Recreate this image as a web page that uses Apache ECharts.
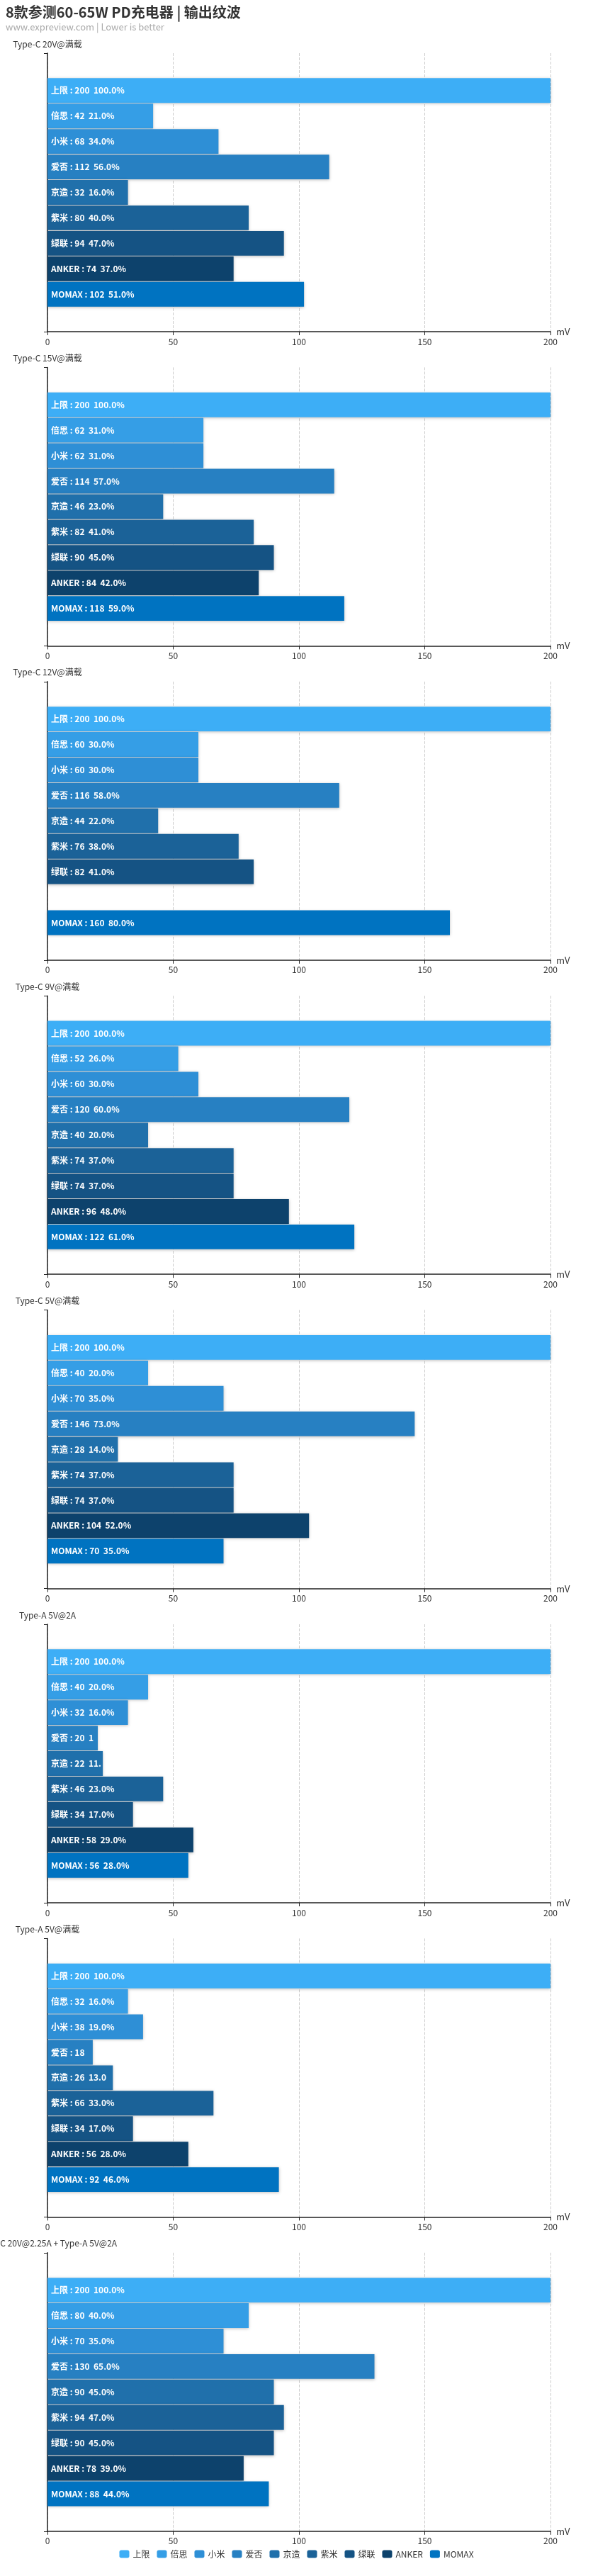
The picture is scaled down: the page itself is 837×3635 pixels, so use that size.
<!DOCTYPE html>
<html>
<head>
<meta charset="utf-8">
<script src="https://cdn.jsdelivr.net/npm/echarts@6/dist/echarts.min.js"></script>
<style>
html,body{margin:0;padding:0;background:#fff;}
#chart{width:837px;height:3635px;}
</style>
</head>
<body>
<div id="chart"></div>
<script>
var brands = ['上限', '倍思', '小米', '爱否', '京造', '紫米', '绿联', 'ANKER', 'MOMAX'];
var brandColors = ['#3daef6', '#359ee6', '#2e8fd6', '#2780c2', '#2070ab', '#1b6298', '#155384', '#0d426c', '#0073c1'];
var testNames = [
  'Type-C 20V@满载',
  'Type-C 15V@满载',
  'Type-C 12V@满载',
  'Type-C 9V@满载',
  'Type-C 5V@满载',
  'Type-A 5V@2A',
  'Type-A 5V@满载',
  'Type-C 20V@2.25A + Type-A 5V@2A'
];
var tC20 = [200, 42, 68, 112, 32, 80, 94, 74, 102];
var tC15 = [200, 62, 62, 114, 46, 82, 90, 84, 118];
var tC12 = [200, 60, 60, 116, 44, 76, 82, null, 160];
var tC9 = [200, 52, 60, 120, 40, 74, 74, 96, 122];
var tC5 = [200, 40, 70, 146, 28, 74, 74, 104, 70];
var tA5_2A = [200, 40, 32, 20, 22, 46, 34, 58, 56];
var tA5 = [200, 32, 38, 18, 26, 66, 34, 56, 92];
var tMix = [200, 80, 70, 130, 90, 94, 90, 78, 88];
var xTicks = [0, 50, 100, 150, 200];

var allData = [tC20, tC15, tC12, tC9, tC5, tA5_2A, tA5, tMix];
var FONT = '"Microsoft YaHei", "Noto Sans CJK SC", sans-serif';

var grids = [], xAxes = [], yAxes = [], series = [];
var GRID_TOP = 75, GRID_STEP = 443.4, GRID_H = 393;
allData.forEach(function (vals, gi) {
  grids.push({left: 67, right: 60, top: GRID_TOP + GRID_STEP * gi, height: GRID_H, containLabel: false, outerBoundsMode: 'none'});
  xAxes.push({
    gridIndex: gi, type: 'value', min: xTicks[0], max: xTicks[xTicks.length - 1], interval: xTicks[1] - xTicks[0],
    name: 'mV', nameGap: 8,
    nameTextStyle: {color: '#333', fontSize: 13, fontFamily: FONT},
    axisLine: {show: true, lineStyle: {color: '#222', width: 1.5}},
    axisTick: {show: true, length: 5, lineStyle: {color: '#222'}},
    axisLabel: {color: '#333', fontSize: 12, fontFamily: FONT, margin: 8},
    splitLine: {show: true, lineStyle: {type: 'dashed', color: '#ccc'}}
  });
  yAxes.push({
    gridIndex: gi, type: 'category', data: [''], inverse: true,
    name: testNames[gi], nameLocation: 'start', nameGap: 7,
    nameTextStyle: {color: '#333', fontSize: 12, fontFamily: FONT},
    axisLine: {show: true, lineStyle: {color: '#222', width: 1.5}},
    axisTick: {show: true, length: 5, lineStyle: {color: '#222'}},
    axisLabel: {show: false},
    splitLine: {show: false}
  });
  var maxVal = vals[0];
  brands.forEach(function (b, bi) {
    series.push({
      type: 'bar', name: b, xAxisIndex: gi, yAxisIndex: gi,
      data: [vals[bi]],
      barCategoryGap: '18%', barGap: '3%',
      itemStyle: {color: brandColors[bi], shadowBlur: 4, shadowColor: 'rgba(0,0,0,0.25)', shadowOffsetY: 1},
      label: {
        show: true, position: 'insideLeft', distance: 5,
        color: '#fff', fontSize: 12, fontWeight: 'bold', fontFamily: FONT,
        overflow: 'truncate', ellipsis: '',
        formatter: function (p) {
          return p.seriesName + ' : ' + p.value + '  ' + (p.value / maxVal * 100).toFixed(1) + '%';
        }
      },
      labelLayout: function (p) {
        return {width: Math.max(p.rect.width - 5, 0)};
      },
      animation: false
    });
  });
});

var chart = echarts.init(document.getElementById('chart'), null, {renderer: 'canvas'});
chart.setOption({
  backgroundColor: '#fff',
  animation: false,
  textStyle: {fontFamily: FONT},
  title: {
    text: '8款参测60-65W PD充电器 | 输出纹波',
    subtext: 'www.expreview.com | Lower is better',
    left: 3, top: 2, itemGap: 5,
    textStyle: {fontSize: 20, fontWeight: 'bold', color: '#333', fontFamily: FONT},
    subtextStyle: {fontSize: 13, color: '#aaa', fontFamily: FONT}
  },
  legend: {
    data: brands, bottom: 20, left: 'center',
    icon: 'roundRect', itemWidth: 14, itemHeight: 11, itemGap: 10,
    textStyle: {fontSize: 12, color: '#333', fontFamily: FONT}
  },
  grid: grids,
  xAxis: xAxes,
  yAxis: yAxes,
  series: series
});
</script>
</body>
</html>
